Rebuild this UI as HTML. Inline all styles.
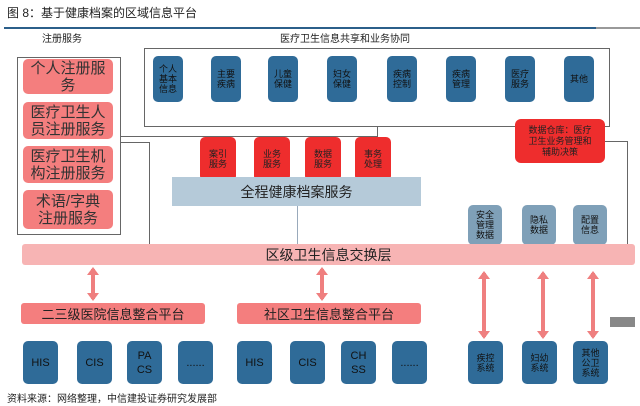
<!DOCTYPE html><html><head><meta charset="utf-8"><style>
body{margin:0;width:640px;height:406px;background:#fff;position:relative;overflow:hidden;font-family:"Liberation Sans","Noto Sans CJK SC",sans-serif;color:#222}
div{position:absolute;box-sizing:border-box}
.c{display:flex;align-items:center;justify-content:center;text-align:center}
.p{background:#f47e7e;border-radius:5px;font-size:15px;line-height:17px;color:#333}
.b{background:#2f6b98;border-radius:5px;font-size:9px;line-height:10px;color:#111;width:30px;top:56px;height:46px}
.r{background:#ee2d2d;border-radius:5px;font-size:9px;line-height:10px;color:#222;top:137px;height:44px;width:36px}
.g{background:#7fa0b8;border-radius:5px;font-size:9px;line-height:10px;color:#111;top:205px;height:40px;width:34px}
.k{background:#2f6b98;border-radius:5px;top:341px;height:43px;width:35px;font-size:11px;line-height:14px;color:#111}
.l{background:#666}
.ar{width:4px;background:#ef7f7f}
.ar:before,.ar:after{content:"";position:absolute;left:-4px;border-left:6px solid transparent;border-right:6px solid transparent}
.ar:before{top:-2px;border-bottom:8px solid #ef7f7f}
.ar:after{bottom:-2px;border-top:8px solid #ef7f7f}
</style></head><body>
<div style="left:7px;top:4px;font-size:12px">图 8：基于健康档案的区域信息平台</div>
<div style="left:4px;top:27px;width:592px;height:2px;background:#2b5f8a"></div>
<div style="left:596px;top:27px;width:44px;height:2px;background:#999"></div>
<div style="left:42px;top:30px;font-size:10px">注册服务</div>
<div style="left:280px;top:30px;font-size:10px">医疗卫生信息共享和业务协同</div>
<div style="left:17px;top:57px;width:104px;height:178px;border:1px solid #666"></div>
<div class="p c" style="left:23px;top:59px;width:90px;height:35px">个人注册服<br>务</div>
<div class="p c" style="left:23px;top:102px;width:90px;height:37px">医疗卫生人<br>员注册服务</div>
<div class="p c" style="left:23px;top:146px;width:90px;height:37px">医疗卫生机<br>构注册服务</div>
<div class="p c" style="left:23px;top:190px;width:90px;height:39px">术语/字典<br>注册服务</div>
<div style="left:144px;top:48px;width:466px;height:79px;border:1px solid #666"></div>
<div class="b c" style="left:153px">个人<br>基本<br>信息</div>
<div class="b c" style="left:211px">主要<br>疾病</div>
<div class="b c" style="left:268px">儿童<br>保健</div>
<div class="b c" style="left:327px">妇女<br>保健</div>
<div class="b c" style="left:387px">疾病<br>控制</div>
<div class="b c" style="left:446px">疾病<br>管理</div>
<div class="b c" style="left:505px">医疗<br>服务</div>
<div class="b c" style="left:564px">其他</div>
<div class="l" style="left:121px;top:136px;width:257px;height:1px"></div>
<div class="l" style="left:377px;top:127px;width:1px;height:10px"></div>
<div class="l" style="left:121px;top:142px;width:29px;height:1px"></div>
<div class="l" style="left:149px;top:142px;width:1px;height:102px"></div>
<div class="r c" style="left:200px">案引<br>服务</div>
<div class="r c" style="left:254px">业务<br>服务</div>
<div class="r c" style="left:305px">数据<br>服务</div>
<div class="r c" style="left:355px">事务<br>处理</div>
<div class="c" style="left:172px;top:177px;width:249px;height:29px;background:#b5cad9;font-size:14px">全程健康档案服务</div>
<div style="left:297px;top:206px;width:1px;height:38px;background:#9ab"></div>
<div class="c" style="left:515px;top:119px;width:90px;height:44px;background:#ee2d2d;border-radius:6px;font-size:9px;line-height:11px">数据仓库：医疗<br>卫生业务管理和<br>辅助决策</div>
<div class="l" style="left:605px;top:141px;width:23px;height:1px"></div>
<div class="l" style="left:627px;top:141px;width:1px;height:103px"></div>
<div class="g c" style="left:468px">安全<br>管理<br>数据</div>
<div class="g c" style="left:522px">隐私<br>数据</div>
<div class="g c" style="left:573px">配置<br>信息</div>
<div class="c" style="left:22px;top:244px;width:613px;height:21px;background:#f7b4b4;border-radius:3px;font-size:14px">区级卫生信息交换层</div>
<div class="ar" style="left:91px;top:269px;height:30px"></div>
<div class="ar" style="left:320px;top:269px;height:30px"></div>
<div class="ar" style="left:482px;top:273px;height:64px"></div>
<div class="ar" style="left:541px;top:273px;height:64px"></div>
<div class="ar" style="left:591px;top:273px;height:64px"></div>
<div style="left:610px;top:317px;width:25px;height:10px;background:#888"></div>
<div class="c" style="left:21px;top:303px;width:184px;height:21px;background:#f47e7e;border-radius:3px;font-size:13px">二三级医院信息整合平台</div>
<div class="c" style="left:237px;top:303px;width:184px;height:21px;background:#f47e7e;border-radius:3px;font-size:13px">社区卫生信息整合平台</div>
<div class="k c" style="left:23px">HIS</div>
<div class="k c" style="left:77px">CIS</div>
<div class="k c" style="left:127px">PA<br>CS</div>
<div class="k c" style="left:178px">......</div>
<div class="k c" style="left:237px">HIS</div>
<div class="k c" style="left:290px">CIS</div>
<div class="k c" style="left:341px">CH<br>SS</div>
<div class="k c" style="left:392px">......</div>
<div class="k c" style="left:468px;font-size:9px;line-height:10px">疾控<br>系统</div>
<div class="k c" style="left:522px;font-size:9px;line-height:10px">妇幼<br>系统</div>
<div class="k c" style="left:573px;font-size:9px;line-height:10px">其他<br>公卫<br>系统</div>
<div style="left:7px;top:390px;font-size:10px">资料来源：网络整理，中信建投证券研究发展部</div>
</body></html>
